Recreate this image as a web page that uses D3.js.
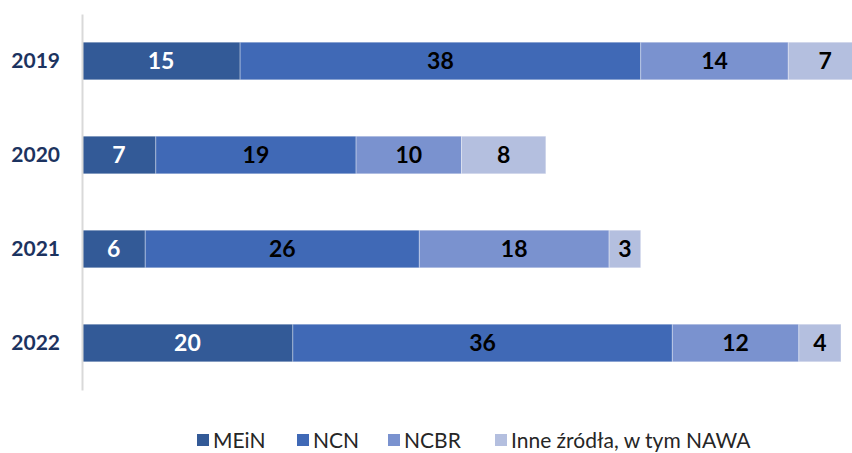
<!DOCTYPE html>
<html>
<head>
<meta charset="utf-8">
<script src="https://cdn.jsdelivr.net/npm/d3@7"></script>
<style>
  body { margin: 0; background: #fff; }
  .year { font-family: Lato, "Open Sans", sans-serif; font-weight: bold; font-size: 21px; fill: #1c3360; }
  .val { font-family: Lato, "Open Sans", sans-serif; font-weight: bold; font-size: 23px; }
  .legend text { font-family: Lato, "Open Sans", sans-serif; font-size: 21px; fill: #262626; }
</style>
</head>
<body>
<div class="svg-container"></div>
<script>
var width = 852;
var height = 453;

var years = ["2019", "2020", "2021", "2022"];
var series = ["MEiN", "NCN", "NCBR", "Inne źródła, w tym NAWA"];
var mein = [15, 7, 6, 20];
var ncn = [38, 19, 26, 36];
var ncbr = [14, 10, 18, 12];
var inne = [7, 8, 3, 4];

var colors = ["#335a97", "#4069b6", "#7a92cf", "#b4bfdf"];
var labelColors = ["#ffffff", "#000000", "#000000", "#000000"];

var svg = d3.select(".svg-container")
            .append("svg")
            .attr("width", width)
            .attr("height", height);

// rows for stacking
var rows = years.map(function(y, i) {
    return { year: y, s0: mein[i], s1: ncn[i], s2: ncbr[i], s3: inne[i] };
});
var keys = ["s0", "s1", "s2", "s3"];
var stacked = d3.stack().keys(keys)(rows);

var scaleX = d3.scaleLinear()
               .domain([0, 72])
               .range([82, 841]);

var scaleY = d3.scaleBand()
               .domain(years)
               .range([14, 390])
               .paddingInner(0.6)
               .paddingOuter(0.3);

// bars
var layers = svg.selectAll("g.layer")
    .data(stacked)
    .enter()
    .append("g")
    .attr("class", "layer")
    .attr("fill", function(d, i) { return colors[i]; });

layers.selectAll("rect")
    .data(function(d) { return d; })
    .enter()
    .append("rect")
    .attr("x", function(d) { return scaleX(d[0]); })
    .attr("y", function(d) { return scaleY(d.data.year); })
    .attr("width", function(d) { return scaleX(d[1]) - scaleX(d[0]); })
    .attr("height", scaleY.bandwidth())
    .attr("stroke", "#ffffff")
    .attr("stroke-opacity", 0.35)
    .attr("stroke-width", 1);

// value labels
layers.each(function(layer, i) {
    d3.select(this).selectAll("text")
        .data(layer)
        .enter()
        .append("text")
        .attr("class", "val")
        .attr("x", function(d) { return (scaleX(d[0]) + scaleX(d[1])) / 2; })
        .attr("y", function(d) { return scaleY(d.data.year) + scaleY.bandwidth() / 2; })
        .attr("dy", "0.36em")
        .attr("text-anchor", "middle")
        .attr("fill", labelColors[i])
        .text(function(d) { return d[1] - d[0]; });
});

// axis line on the left
var yAxis = svg.append("g")
    .attr("transform", "translate(" + scaleX(0) + ",0)")
    .call(d3.axisLeft(scaleY).tickSize(0).tickPadding(22));

yAxis.select(".domain")
    .attr("stroke", "#d9d9d9")
    .attr("stroke-width", 2);

yAxis.selectAll("text")
    .attr("class", "year")
    .attr("font-family", null)
    .attr("font-size", null)
    .attr("fill", null);

// legend
var legendX = [197, 297, 388, 495];
var legend = svg.append("g").attr("class", "legend");

series.forEach(function(name, i) {
    legend.append("rect")
        .attr("x", legendX[i])
        .attr("y", 434)
        .attr("width", 12)
        .attr("height", 12)
        .attr("fill", colors[i]);
    legend.append("text")
        .attr("x", legendX[i] + 16)
        .attr("y", 440)
        .attr("dy", "0.36em")
        .text(name);
});
</script>
</body>
</html>
